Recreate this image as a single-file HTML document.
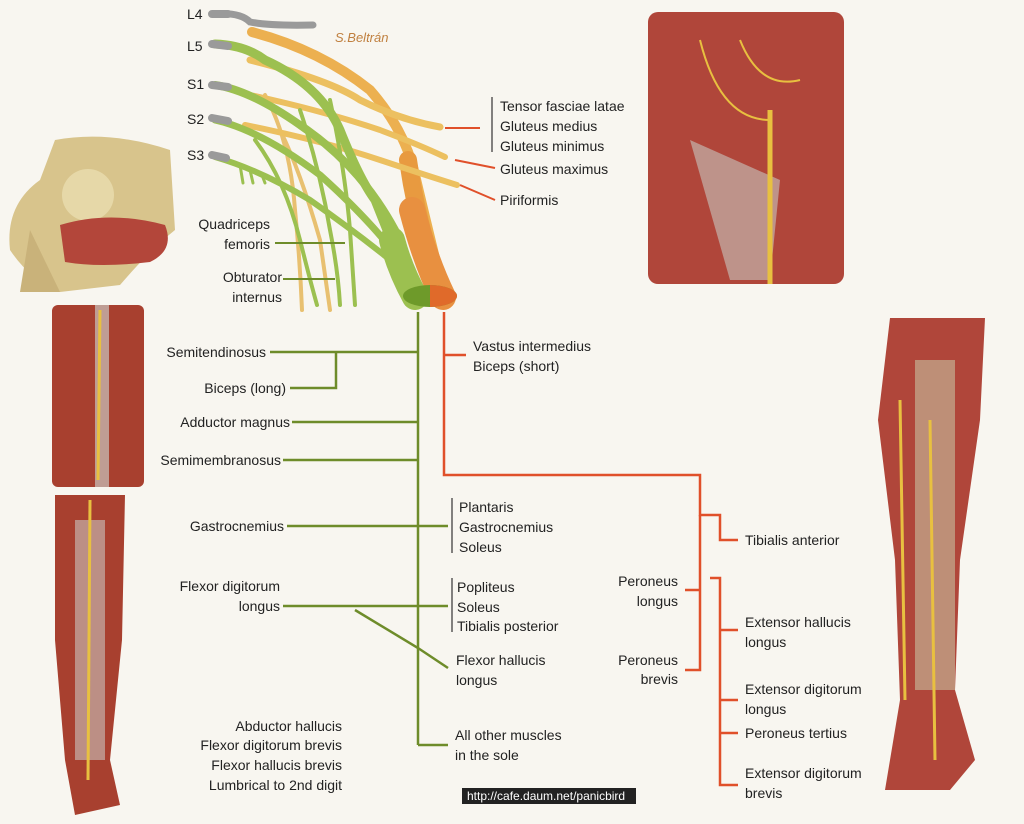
<!DOCTYPE html>
<html><head><meta charset="utf-8">
<style>
html,body{margin:0;padding:0;background:#f8f6f0;}
svg{display:block}
text{font-family:"Liberation Sans",sans-serif;font-size:14px;fill:#222;}
</style></head><body>
<svg width="1024" height="824" viewBox="0 0 1024 824" xmlns="http://www.w3.org/2000/svg">
<rect width="1024" height="824" fill="#f8f6f0"/>

<!-- hip image -->
<g>
<path d="M55 140 Q110 130 170 150 L175 230 Q150 250 120 285 L60 292 Q30 280 10 250 Q5 205 40 180 Z" fill="#d8c48c"/>
<circle cx="88" cy="195" r="26" fill="#e6d8a8"/>
<path d="M60 225 Q110 210 165 225 Q175 250 150 262 Q100 268 65 262 Z" fill="#b3463a"/>
<path d="M30 230 L60 292 L20 292 Z" fill="#c9b27a"/>
</g>
<!-- thigh -->
<rect x="52" y="305" width="92" height="182" fill="#a8402f" rx="6"/>
<rect x="95" y="305" width="14" height="182" fill="#c9c4bf" opacity=".7"/>
<path d="M100 310 L98 480" stroke="#e8c040" stroke-width="3"/>
<!-- leg -->
<path d="M55 495 L125 495 L122 640 L110 760 L120 805 L75 815 L65 760 L55 640 Z" fill="#a8402f"/>
<rect x="75" y="520" width="30" height="240" fill="#c9c4bf" opacity=".6"/>
<path d="M90 500 L88 780" stroke="#e8c040" stroke-width="3"/>
<!-- gluteal -->
<rect x="648" y="12" width="196" height="272" fill="#b0463a" rx="10"/>
<path d="M690 140 L780 180 L770 280 L730 280 Z" fill="#c8c6c0" opacity=".6"/>
<path d="M770 110 L770 284" stroke="#e8c040" stroke-width="5"/>
<path d="M700 40 Q720 120 770 120 M740 40 Q760 90 800 80" stroke="#e8c040" stroke-width="2" fill="none"/>
<!-- right leg -->
<path d="M890 318 L985 318 L980 420 L960 560 L955 690 L975 760 L950 790 L885 790 L900 700 L895 560 L878 420 Z" fill="#b0463a"/>
<rect x="915" y="360" width="40" height="330" fill="#c8c0a0" opacity=".6"/>
<path d="M900 400 L905 700 M930 420 L935 760" stroke="#e8c040" stroke-width="3"/>

<!-- plexus -->
<g fill="none" stroke-linecap="round">
<path d="M215 14 Q240 12 250 22 Q270 26 313 25" stroke="#9a9a9a" stroke-width="7"/>
<path d="M252 32 Q320 50 370 90 Q405 130 415 175 Q428 230 444 295" stroke="#ecb050" stroke-width="10"/>
<path d="M408 160 Q418 230 443 297" stroke="#e89a40" stroke-width="18"/>
<path d="M412 210 Q425 260 443 297" stroke="#e89040" stroke-width="26"/>
<path d="M265 95 Q290 140 295 210 Q300 260 302 310 M280 130 Q300 170 320 240 L330 310" stroke="#e8c070" stroke-width="4"/>
<path d="M250 60 Q330 80 360 100 Q400 120 440 127" stroke="#ecc060" stroke-width="7"/>
<path d="M250 95 Q320 110 380 130 Q420 145 445 157" stroke="#ecc060" stroke-width="6"/>
<path d="M245 125 Q320 140 380 160 Q425 175 457 185" stroke="#ecc060" stroke-width="6"/>
<path d="M215 44 Q245 45 265 60 Q320 85 340 130 Q360 180 375 200 Q395 250 412 293" stroke="#9cc050" stroke-width="9"/>
<path d="M215 85 Q250 90 300 125 Q360 165 395 230 Q405 260 412 293" stroke="#9cc050" stroke-width="8"/>
<path d="M215 120 Q260 130 320 175 Q370 220 400 260" stroke="#9cc050" stroke-width="7"/>
<path d="M215 157 Q260 170 310 200 Q360 235 400 268" stroke="#9cc050" stroke-width="6"/>
<path d="M392 240 Q400 270 415 297" stroke="#9cc050" stroke-width="26"/>
<path d="M240 165 L243 183 M250 170 L253 183 M262 175 L265 183" stroke="#9cc050" stroke-width="3"/>
<path d="M255 140 Q285 180 300 240 Q310 280 317 305 M300 110 Q320 170 330 230 Q338 270 340 305 M330 100 Q345 170 350 230 L355 305" stroke="#9cc050" stroke-width="4"/>
<path d="M212 14 L228 14 M212 44 L228 46 M212 85 L228 87 M212 118 L228 121 M212 155 L226 158" stroke="#9a9a9a" stroke-width="8"/>
<ellipse cx="430" cy="296" rx="27" ry="11" fill="#6e9a2a"/>
<path d="M430 285 A27 11 0 0 1 457 296 A27 11 0 0 1 430 307 Z" fill="#e06a2a"/>
</g>
<text x="187" y="19">L4</text><text x="187" y="51">L5</text><text x="187" y="89">S1</text><text x="187" y="124">S2</text><text x="187" y="160">S3</text>
<text x="335" y="42" style="font-style:italic;fill:#c08040;font-size:13px">S.Beltrán</text>

<g stroke="#e0502a" stroke-width="2" fill="none">
<path d="M445 128 L480 128 M455 160 L495 168 M460 185 L495 200"/>
</g>
<path d="M492 97 L492 152" stroke="#333" stroke-width="1.2" fill="none"/>
<text x="500" y="111">Tensor fasciae latae</text>
<text x="500" y="131">Gluteus medius</text>
<text x="500" y="151">Gluteus minimus</text>
<text x="500" y="174">Gluteus maximus</text>
<text x="500" y="205">Piriformis</text>
<g stroke="#6e8c2a" stroke-width="2" fill="none">
<path d="M275 243 L345 243 M283 279 L335 279"/>
</g>
<text x="270" y="229" text-anchor="end">Quadriceps</text>
<text x="270" y="249" text-anchor="end">femoris</text>
<text x="282" y="282" text-anchor="end">Obturator</text>
<text x="282" y="302" text-anchor="end">internus</text>

<g stroke="#6e8c2a" stroke-width="2.5" fill="none">
<path d="M418 312 L418 745"/>
<path d="M270 352 L418 352 M336 352 L336 388 L290 388"/>
<path d="M292 422 L418 422 M283 460 L418 460"/>
<path d="M287 526 L448 526 M283 606 L448 606"/>
<path d="M355 610 L418 648 L448 668"/>
<path d="M418 745 L448 745"/>
</g>
<path d="M452 498 L452 553 M452 578 L452 632" stroke="#333" stroke-width="1.2"/>
<text x="266" y="357" text-anchor="end">Semitendinosus</text>
<text x="286" y="393" text-anchor="end">Biceps (long)</text>
<text x="290" y="427" text-anchor="end">Adductor magnus</text>
<text x="281" y="465" text-anchor="end">Semimembranosus</text>
<text x="284" y="531" text-anchor="end">Gastrocnemius</text>
<text x="280" y="591" text-anchor="end">Flexor digitorum</text>
<text x="280" y="611" text-anchor="end">longus</text>
<text x="459" y="512">Plantaris</text>
<text x="459" y="532">Gastrocnemius</text>
<text x="459" y="552">Soleus</text>
<text x="457" y="592">Popliteus</text>
<text x="457" y="612">Soleus</text>
<text x="457" y="631">Tibialis posterior</text>
<text x="456" y="665">Flexor hallucis</text>
<text x="456" y="685">longus</text>
<text x="342" y="731" text-anchor="end">Abductor hallucis</text>
<text x="342" y="750" text-anchor="end">Flexor digitorum brevis</text>
<text x="342" y="770" text-anchor="end">Flexor hallucis brevis</text>
<text x="342" y="790" text-anchor="end">Lumbrical to 2nd digit</text>
<text x="455" y="740">All other muscles</text>
<text x="455" y="760">in the sole</text>

<g stroke="#e0502a" stroke-width="2.5" fill="none">
<path d="M444 312 L444 475 L700 475 L700 515 L720 515 L720 540 L738 540"/>
<path d="M444 355 L466 355"/>
<path d="M700 515 L700 670 L685 670 M700 590 L685 590"/>
<path d="M710 578 L720 578 L720 785 L738 785 M720 630 L738 630 M720 700 L738 700 M720 733 L738 733"/>
</g>
<text x="473" y="351">Vastus intermedius</text>
<text x="473" y="371">Biceps (short)</text>
<text x="745" y="545">Tibialis anterior</text>
<text x="678" y="586" text-anchor="end">Peroneus</text>
<text x="678" y="606" text-anchor="end">longus</text>
<text x="678" y="665" text-anchor="end">Peroneus</text>
<text x="678" y="684" text-anchor="end">brevis</text>
<text x="745" y="627">Extensor hallucis</text>
<text x="745" y="647">longus</text>
<text x="745" y="694">Extensor digitorum</text>
<text x="745" y="714">longus</text>
<text x="745" y="738">Peroneus tertius</text>
<text x="745" y="778">Extensor digitorum</text>
<text x="745" y="798">brevis</text>

<rect x="462" y="788" width="174" height="16" fill="#222"/>
<text x="467" y="800" style="fill:#fff;font-size:12px">http://cafe.daum.net/panicbird</text>
</svg>
</body></html>
